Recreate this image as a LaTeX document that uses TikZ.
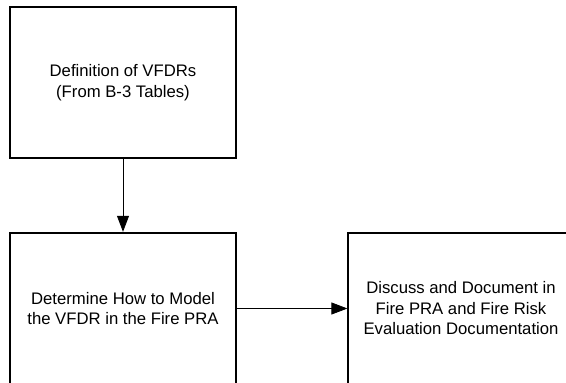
\documentclass[tikz,border=0pt]{standalone}
\usepackage{fontspec}
\setmainfont{Liberation Sans}
\usetikzlibrary{arrows.meta}
\begin{document}
\begin{tikzpicture}[x=1pt,y=-1pt,
  thickbox/.style={draw=black, line width=2.4pt, minimum width=226pt, align=center, inner sep=0pt,
    font=\fontsize{16.7}{20.8}\selectfont},
  thinbox/.style={draw=black, line width=1.2pt, minimum width=226pt, align=center, inner sep=0pt,
    font=\fontsize{16.7}{20.5}\selectfont},
  conn/.style={line width=0.8pt, -{Triangle[length=16pt,width=12pt]}}]
\useasboundingbox (0,0) rectangle (566,383);
\clip (0,0) rectangle (566,383);
\node[thickbox, minimum height=151pt] (def) at (123,82.5) {Definition of VFDRs\\(From B-3 Tables)};
\node[thickbox, minimum height=151pt] (det) at (123,308.5) {Determine How to Model\\the VFDR in the Fire PRA};
\node[thinbox, minimum height=151pt] (doc) at (461,308.5) {Discuss and Document in\\Fire PRA and Fire Risk\\Evaluation Documentation};
\draw[conn] (def.south) -- (det.north);
\draw[conn] (det.east) -- (doc.west);
\end{tikzpicture}
\end{document}
